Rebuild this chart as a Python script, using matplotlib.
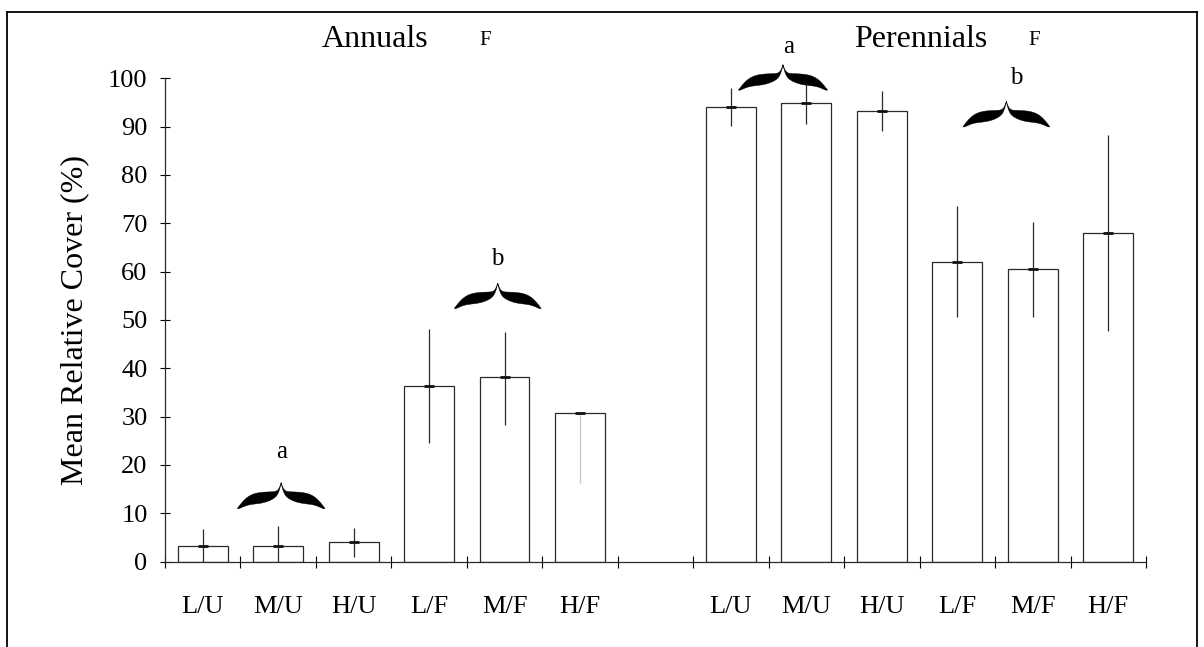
import numpy as np
import matplotlib
matplotlib.use('Agg')
import matplotlib.pyplot as plt
from matplotlib.lines import Line2D
from matplotlib.patches import Polygon

plt.rcParams['font.family'] = ['Liberation Serif', 'DejaVu Serif']

# treatment groups, same order for both life forms
groups = ['L/U', 'M/U', 'H/U', 'L/F', 'M/F', 'H/F']

# mean relative cover (%) and error
annual_mean = [3.3, 3.3, 4.0, 36.3, 38.1, 30.7]
annual_err_up = [3.5, 4.1, 3.0, 11.8, 9.4, 0.0]
annual_err_down = [3.5, 4.1, 3.0, 11.8, 9.8, 14.5]

perennial_mean = [94.0, 94.8, 93.2, 62.0, 60.5, 68.0]
perennial_err = [3.9, 4.2, 4.1, 11.5, 9.8, 20.3]


def brace(ax, xc, half, y_end, y_tip, n=300):
    """curly brace opening downwards, tip at (xc, y_tip)"""
    s = np.linspace(0, 1, n)
    prof = 0.35 * (1 - np.tanh(14 * s)) + 0.65 * np.tanh(3.5 * (1 - s)) / np.tanh(3.5)
    thick = 0.42 * np.sin(np.pi * s) ** 0.7
    h = y_tip - y_end
    xs = np.concatenate([xc - half * s[::-1], xc + half * s[1:]])
    up = np.concatenate([prof[::-1], prof[1:]])
    lo = np.concatenate([(prof - thick)[::-1], (prof - thick)[1:]])
    pts = np.column_stack([np.concatenate([xs, xs[::-1]]),
                           y_end + h * np.concatenate([up, lo[::-1]])])
    ax.add_patch(Polygon(pts, closed=True, facecolor='black', edgecolor='black',
                         linewidth=0.3, clip_on=False))


fig = plt.figure(figsize=(12.04, 6.47), dpi=100)
ax = fig.add_axes([0.1370, 0.1321, 0.8148, 0.7469])

x_ann = np.arange(6)
x_per = np.arange(7, 13)
edge = '#2a2a2a'

ax.bar(x_ann, annual_mean, width=0.66, color='white', edgecolor=edge, linewidth=0.9)
ax.bar(x_per, perennial_mean, width=0.66, color='white', edgecolor=edge, linewidth=0.9)

# error bars as plain vertical lines, no caps
ann_lo = np.array(annual_mean) - np.array(annual_err_down)
ann_hi = np.array(annual_mean) + np.array(annual_err_up)
ax.vlines(x_ann, ann_lo, ann_hi, colors=[edge] * 5 + ['#c4c4c4'], linewidth=0.9)
per_lo = np.array(perennial_mean) - np.array(perennial_err)
per_hi = np.array(perennial_mean) + np.array(perennial_err)
ax.vlines(x_per, per_lo, per_hi, colors=edge, linewidth=0.9)
ax.plot(x_ann, annual_mean, ls='none', marker='_', ms=7, mew=2, color='#111111')
ax.plot(x_per, perennial_mean, ls='none', marker='_', ms=7, mew=2, color='#111111')

ax.set_xlim(-0.5, 12.5)
ax.set_ylim(0, 100)
ax.set_yticks(np.arange(0, 101, 10))
ax.set_xticks(list(x_ann) + list(x_per))
ax.set_xticklabels(groups * 2)
ax.set_xticks(np.arange(-0.5, 13, 1), minor=True)
ax.tick_params(axis='x', which='major', length=0, pad=25, labelsize=19)
ax.tick_params(axis='x', which='minor', direction='inout', length=8, width=0.8)
ax.tick_params(axis='y', direction='inout', length=7, width=0.8, pad=9, labelsize=19)
for side in ('top', 'right'):
    ax.spines[side].set_visible(False)
for side in ('left', 'bottom'):
    ax.spines[side].set_linewidth(0.9)
    ax.spines[side].set_color(edge)

ax.set_ylabel('Mean Relative Cover (%)', fontsize=23)
ax.yaxis.label.set_va('center')
ax.yaxis.set_label_coords(-0.0917, 0.5)

# panel titles with significance marks
ax.text(2.29, 106.5, 'Annuals', fontsize=23, ha='center', va='baseline')
ax.text(3.74, 106.8, 'F', fontsize=15, ha='center', va='baseline')
ax.text(9.52, 106.5, 'Perennials', fontsize=23, ha='center', va='baseline')
ax.text(11.02, 106.8, 'F', fontsize=15, ha='center', va='baseline')

# grouping braces and letters
brace(ax, 1.04, 0.58, 11.0, 16.3)
ax.text(1.04, 22.7, 'a', fontsize=18, ha='center', va='center')
brace(ax, 3.91, 0.575, 52.4, 57.6)
ax.text(3.91, 62.6, 'b', fontsize=18, ha='center', va='center')
brace(ax, 7.69, 0.59, 97.6, 102.8)
ax.text(7.76, 106.5, 'a', fontsize=18, ha='center', va='center')
brace(ax, 10.65, 0.575, 90.0, 95.2)
ax.text(10.78, 100.0, 'b', fontsize=18, ha='center', va='center')

# outer frame (open at the bottom)
for xs, ys in (([0.0058, 0.0058], [-0.01, 0.9815]),
               ([0.0058, 0.9942], [0.9815, 0.9815]),
               ([0.9942, 0.9942], [-0.01, 0.9815])):
    fig.add_artist(Line2D(xs, ys, transform=fig.transFigure, color='black', lw=1.3))

fig.savefig('out.png', dpi=100)
